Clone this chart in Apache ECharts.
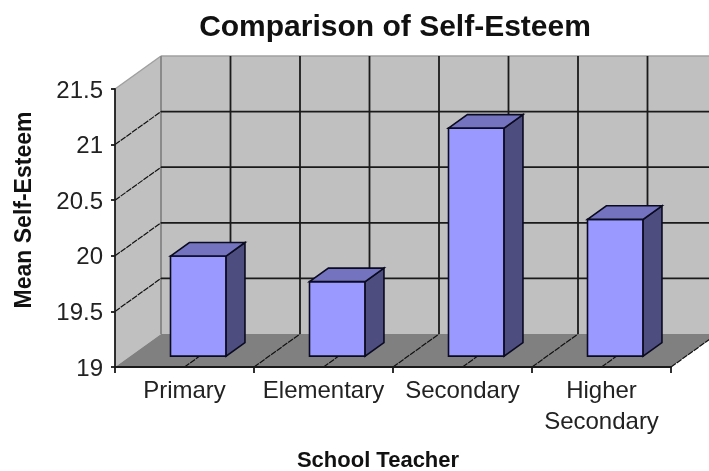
<!DOCTYPE html>
<html><head><meta charset="utf-8">
<style>html,body{margin:0;padding:0;background:#fff}#c{width:709px;height:471px}</style>
<script src="https://cdn.jsdelivr.net/npm/echarts@6/dist/echarts.min.js"></script>
</head><body><div id="c"></div>
<script>
const categories = ['Primary','Elementary','Secondary','Higher\nSecondary'];
const meanSelfEsteem = [19.9,19.67,21.05,20.23];
const yMin = 19, yMax = 21.5, yStep = 0.5;
const yTicks = [19,19.5,20,20.5,21,21.5];

const DX = 46, DY = -33;            // oblique projection of the chart's depth
const FONT = '"Liberation Sans", Arial, sans-serif';
const chart = echarts.init(document.getElementById('c'), null, {renderer:'canvas'});

function poly(points, fill, stroke, lw){
  return {type:'polygon', shape:{points}, style:{fill, stroke:stroke||null, lineWidth:lw||0}};
}
function seg(x1,y1,x2,y2,stroke,lw,dash){
  return {type:'line', shape:{x1,y1,x2,y2}, style:{stroke, lineWidth:lw, fill:null, lineDash:dash||null}};
}
function renderWalls(params, api){
  const r = params.coordSys, L=r.x, R=r.x+r.width, T=r.y, B=r.y+r.height;
  const kids = [];
  kids.push(poly([[L+DX,T+DY],[R+DX,T+DY],[R+DX,B+DY],[L+DX,B+DY]],'#c0c0c0'));
  kids.push(poly([[L,T],[L+DX,T+DY],[L+DX,B+DY],[L,B]],'#c0c0c0'));
  kids.push(poly([[L,B],[R,B],[R+DX,B+DY],[L+DX,B+DY]],'#808080'));
  kids.push(seg(L,T,L+DX,T+DY,'#a0a0a0',1.5));
  kids.push(seg(L+DX,T+DY,R+DX,T+DY,'#a0a0a0',1.5));
  kids.push(seg(L+DX,T+DY,L+DX,B+DY,'#8a8a8a',2));
  yTicks.forEach(t=>{
    if(t===yMin) return;
    const y = api.coord([0,t])[1];
    if(t!==yMax){
      kids.push(seg(L+DX,y+DY,R+DX,y+DY,'#1a1a1a',1.8));
      kids.push(seg(L,y,L+DX,y+DY,'#111',1.2,[6,1]));
    }
  });
  const band = r.width/categories.length;
  for(let i=0;i<=categories.length*2;i++){
    const x = L+i*band/2;
    if(i>0) kids.push(seg(x+DX,T+DY,x+DX,B+DY,'#1a1a1a',1.8));
    if(i>0) kids.push(seg(x,B,x+DX,B+DY,'#111',1.2,[6,1]));
  }
  return {type:'group', children:kids};
}
function renderBar(params, api){
  const i = api.value(0), v = api.value(1);
  const c = api.coord([i,v]), b = api.coord([i,yMin]);
  const band = api.size([1,0])[0], w = band*0.4;
  const f0 = 0.33, f1 = 0.74;
  const x0 = c[0]-w/2+DX*0.3, x1 = x0+w;
  const yt = c[1]+DY*f0, yb = b[1]+DY*f0;
  const ox = DX*(f1-f0), oy = DY*(f1-f0);
  const line = '#0a0a20';
  return {type:'group', children:[
    poly([[x0,yt],[x1,yt],[x1,yb],[x0,yb]],'#9999ff',line,1.6),
    poly([[x1,yt],[x1+ox,yt+oy],[x1+ox,yb+oy],[x1,yb]],'#4d4d80',line,1.6),
    poly([[x0,yt],[x0+ox,yt+oy],[x1+ox,yt+oy],[x1,yt]],'#7373bf',line,1.6)
  ]};
}
chart.setOption({
  animation:false,
  backgroundColor:'#fff',
  title:{text:'Comparison of Self-Esteem',left:390,top:8,textAlign:'center',
    textStyle:{fontFamily:FONT,fontSize:30,fontWeight:'bold',color:'#111'}},
  grid:{left:115,top:89,width:556,height:278,containLabel:false},
  xAxis:{type:'category',data:categories,boundaryGap:true,
    axisLine:{lineStyle:{color:'#1a1a1a',width:1.8}},
    axisTick:{show:true,length:6,alignWithLabel:false,lineStyle:{color:'#1a1a1a',width:1.8}},
    axisLabel:{interval:0,fontFamily:FONT,fontSize:24,color:'#222',margin:9,lineHeight:31},
    splitLine:{show:false},z:5},
  yAxis:{type:'value',min:yMin,max:yMax,interval:yStep,
    axisLine:{show:true,lineStyle:{color:'#1a1a1a',width:1.8}},
    axisTick:{show:true,length:4,lineStyle:{color:'#1a1a1a',width:1.8}},
    axisLabel:{fontFamily:FONT,fontSize:24,color:'#222',margin:12,verticalAlign:'top',lineHeight:4,formatter:v=>String(v)},
    splitLine:{show:false},z:5},
  graphic:[
    {type:'text',x:25,y:210,rotation:Math.PI/2,style:{text:'Mean Self-Esteem',fontFamily:FONT,fontSize:23,fontWeight:'bold',fill:'#111',align:'center',verticalAlign:'middle'}},
    {type:'text',x:378,y:461,style:{text:'School Teacher',fontFamily:FONT,fontSize:22,fontWeight:'bold',fill:'#111',align:'center',verticalAlign:'middle'}}
  ],
  series:[
    {type:'custom',coordinateSystem:'cartesian2d',clip:false,z:1,silent:true,data:[[0,yMin]],renderItem:renderWalls},
    {type:'custom',coordinateSystem:'cartesian2d',clip:false,z:2,data:meanSelfEsteem.map((v,i)=>[i,v]),encode:{x:0,y:1},renderItem:renderBar}
  ]
});
</script></body></html>
